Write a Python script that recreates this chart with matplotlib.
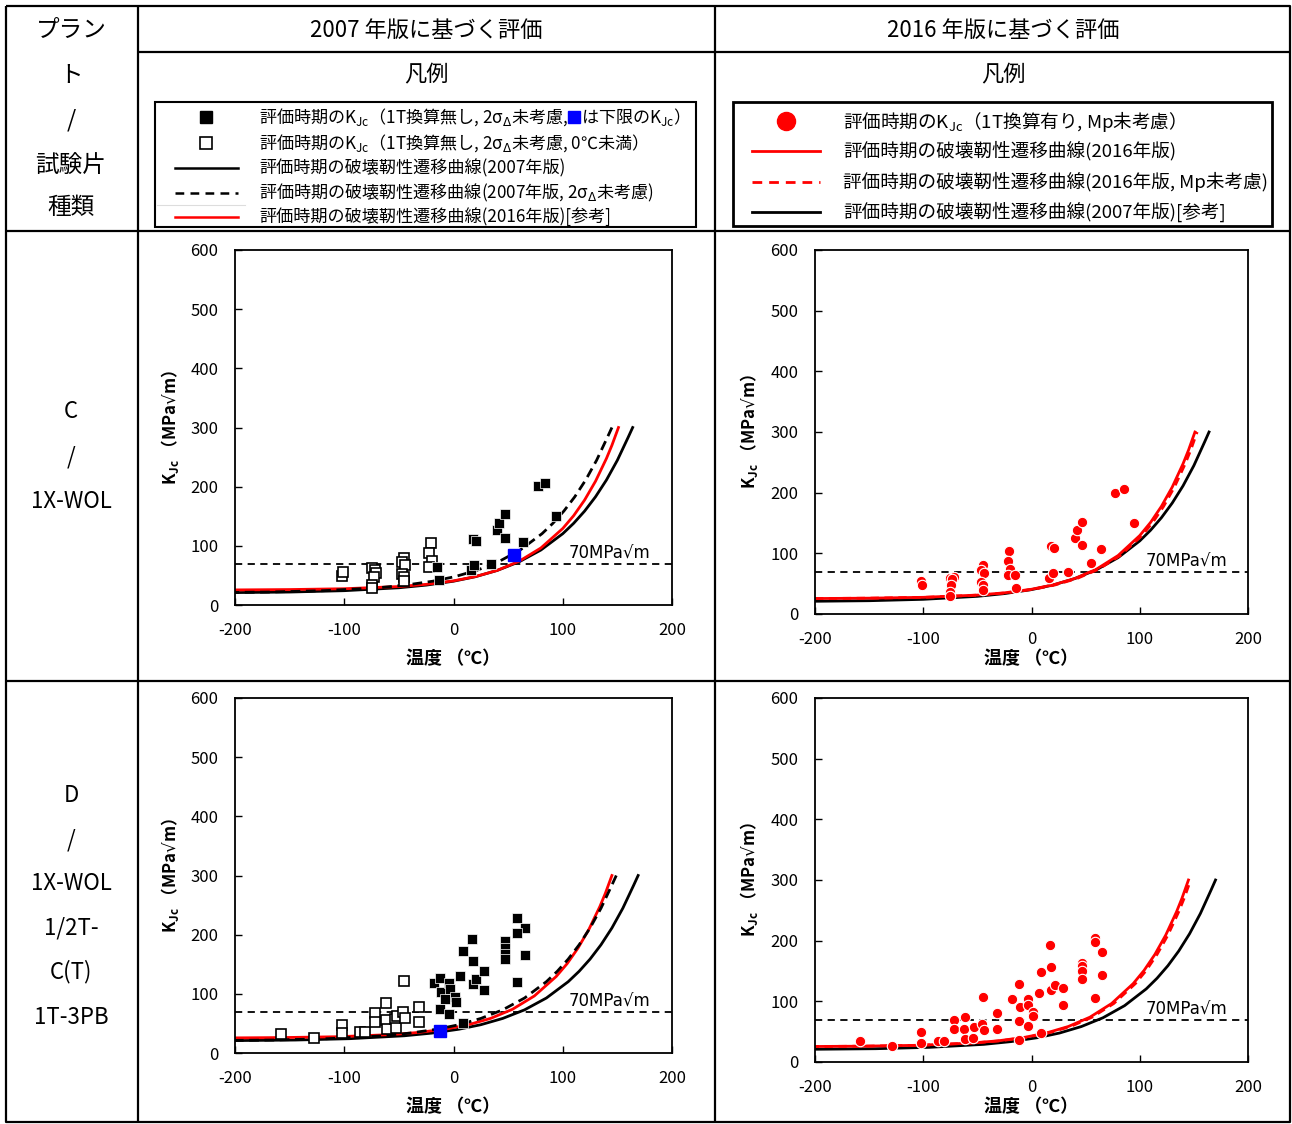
import matplotlib.pyplot as plt
from matplotlib.patches import Rectangle

plt.rcParams['font.family'] = ['Noto Sans CJK JP', 'DejaVu Sans']
plt.rcParams['mathtext.fontset'] = 'dejavusans'
plt.rcParams['axes.unicode_minus'] = False

# ---- data ----
# transition curves (K at 300 is the end point of each curve)
k_2007 = [21.0, 21.9, 24.2, 29.1, 33.6, 40.2, 47.8, 58.4, 72.9, 92.9, 120.5,
          138.1, 158.7, 182.9, 211.3, 244.7, 283.9, 300]
k_2016 = [25.5, 26.1, 27.5, 31.2, 34.9, 40.8, 48.0, 58.5, 73.9, 96.4, 129.3,
          151.0, 177.4, 209.2, 247.7, 269.9, 300]

# plant C
c_t_2007 = [-200, -150, -100, -50, -25, 0, 20, 40, 60, 80, 100, 110, 120, 130, 140, 150, 160, 164]
c_t_2007_nosig = [-219, -169, -119, -69, -44, -19, 1, 21, 41, 61, 81, 91, 101, 111, 121, 131, 141, 145]
c_t_2016 = [-200, -150, -100, -50, -25, 0, 20, 40, 60, 80, 100, 110, 120, 130, 140, 145, 151]
c_t_2016_nomp = [-200, -148, -98, -48, -23, 2, 22, 42, 62, 82, 102, 112, 122, 132, 142, 147, 153]

c_open_t = [-102, -101, -75, -72, -71, -73, -75, -75, -45, -47, -44, -47, -45, -45, -21, -22, -20, -22]
c_open_k = [49, 55, 62, 59, 54, 47, 34, 28, 79, 72, 67, 53, 48, 40, 104, 88, 75, 65]
c_fill_t = [-15, -13, 16, 19, 18, 21, 34, 40, 42, 47, 47, 64, 77, 84, 94]
c_fill_k = [65, 43, 59, 68, 112, 108, 70, 127, 139, 153, 113, 106, 201, 206, 150]
c_blue_t = [55]
c_blue_k = [84]

c_1t_t = [-102, -101, -75, -72, -73, -74, -75, -75, -45, -47, -44, -47, -45, -45, -21, -22, -20,
          -22, -15, -14, 16, 20, 18, 21, 34, 40, 42, 47, 47, 55, 64, 77, 85, 95]
c_1t_k = [55, 48, 60, 61, 57, 48, 36, 29, 81, 73, 67, 53, 48, 40, 104, 88, 74,
          65, 65, 43, 59, 68, 112, 108, 69, 126, 138, 152, 113, 84, 107, 200, 206, 150]

# plant D
d_t_2007 = [-200, -145, -95, -45, -20, 5, 25, 45, 65, 85, 105, 115, 125, 135, 145, 155, 165, 169]
d_t_2007_nosig = [-215, -165, -115, -65, -40, -15, 5, 25, 45, 65, 85, 95, 105, 115, 125, 135, 145, 149]
d_t_2016 = [-206, -156, -106, -56, -31, -6, 14, 34, 54, 74, 94, 104, 114, 124, 134, 139, 145]
d_t_2007b = [-200, -144, -94, -44, -19, 6, 26, 46, 66, 86, 106, 116, 126, 136, 146, 156, 166, 170]
d_t_2016_nomp = [-204, -154, -104, -54, -29, -4, 16, 36, 56, 76, 96, 106, 116, 126, 136, 141, 147]

d_open_t = [-158, -128, -102, -102, -86, -81, -72, -72, -62, -62, -61, -54, -53, -52, -46, -44, -45, -32, -32]
d_open_k = [32, 26, 47, 33, 35, 35, 67, 53, 84, 55, 41, 57, 42, 62, 70, 59, 122, 78, 53]
d_fill_t = [-18, -12, -11, -8, -4, -3, 1, 2, -12, -4, 9, 6, 9, 17, 18, 18, 21, 28, 28,
            47, 47, 47, 47, 58, 65, 58, 65, 58]
d_fill_k = [119, 126, 103, 92, 119, 108, 94, 87, 74, 66, 50, 130, 172, 193, 155, 117, 125, 139, 106,
            190, 177, 167, 159, 229, 212, 202, 166, 120]
d_blue_t = [-12]
d_blue_k = [38]

d_1t_t = [-158, -129, -102, -102, -86, -81, -72, -72, -61, -62, -61, -54, -53, -46, -44, -45, -32, -32,
          -18, -12, -11, -3, -3, 1, 1, -12, -3, -12, 9, 7, 9, 17, 18, 18, 22, 29, 29,
          47, 47, 47, 47, 59, 59, 65, 65, 59]
d_1t_k = [34, 27, 49, 32, 35, 35, 69, 55, 75, 55, 38, 40, 57, 63, 53, 107, 80, 54,
          104, 128, 90, 104, 94, 83, 76, 67, 59, 36, 47, 113, 148, 193, 157, 118, 127, 122, 94,
          164, 158, 150, 137, 204, 197, 182, 143, 105]

W, H = 1292, 1124
fig = plt.figure(figsize=(W / 100, H / 100), dpi=100)
bg = fig.add_axes([0, 0, 1, 1])
bg.set_xlim(0, W)
bg.set_ylim(H, 0)
bg.axis('off')

# ---- table frame ----
lk = dict(color='black', lw=1.6, solid_capstyle='butt')
bg.plot([6, 1290, 1290, 6, 6], [6, 6, 1122, 1122, 6], **lk)
bg.plot([138, 138], [6, 1122], **lk)
bg.plot([715, 715], [6, 1122], **lk)
bg.plot([138, 1290], [52, 52], **lk)
bg.plot([6, 1290], [231, 231], **lk)
bg.plot([6, 1290], [681, 681], **lk)

for txt, y in zip(['プラン', 'ト', '/', '試験片', '種類'], [30, 75, 120, 165, 208]):
    bg.text(71, y, txt, fontsize=17, ha='center', va='center')
for txt, y in zip(['C', '/', '1X-WOL'], [412, 457, 502]):
    bg.text(71, y, txt, fontsize=16, ha='center', va='center')
for txt, y in zip(['D', '/', '1X-WOL', '1/2T-', 'C(T)', '1T-3PB'], [795, 840, 884, 928, 972, 1017]):
    bg.text(71, y, txt, fontsize=16, ha='center', va='center')

bg.text(426, 30, '2007 年版に基づく評価', fontsize=16, ha='center', va='center')
bg.text(1003, 30, '2016 年版に基づく評価', fontsize=16, ha='center', va='center')
bg.text(426, 75, '凡例', fontsize=16, ha='center', va='center')
bg.text(1003, 75, '凡例', fontsize=16, ha='center', va='center')

# ---- left legend ----
bg.add_patch(Rectangle((155, 102), 541, 125, fill=False, ec='black', lw=1.5))
lf = 12.3
rows = [117, 143, 168, 193, 217]
bg.plot([206], [rows[0]], 's', color='black', ms=8)
bg.plot([206], [rows[1]], 's', mfc='white', mec='black', ms=8, mew=1.2)
bg.plot([175, 238], [rows[2], rows[2]], color='black', lw=1.8)
bg.plot([175, 238], [rows[3], rows[3]], color='black', lw=1.8, dashes=(3.5, 2.5))
bg.plot([157, 245], [205, 205], color='#dddddd', lw=0.8)
bg.plot([175, 238], [rows[4], rows[4]], color='red', lw=1.8)

t1 = bg.text(259, rows[0], '評価時期のK$_\\mathregular{Jc}$（1T換算無し, 2σ$_\\Delta$未考慮, ',
             fontsize=lf, va='center')
fig.canvas.draw()
r = fig.canvas.get_renderer()
bb = t1.get_window_extent(r)
x_end = bg.transData.inverted().transform((bb.x1, bb.y0))[0]
bg.plot([x_end + 5], [rows[0]], 's', color='#0000FF', ms=9)
bg.text(x_end + 12, rows[0], 'は下限のK$_\\mathregular{Jc}$）', fontsize=lf, va='center')
bg.text(259, rows[1], '評価時期のK$_\\mathregular{Jc}$（1T換算無し, 2σ$_\\Delta$未考慮, 0℃未満）',
        fontsize=lf, va='center')
bg.text(259, rows[2], '評価時期の破壊靭性遷移曲線(2007年版)', fontsize=lf, va='center')
bg.text(259, rows[3], '評価時期の破壊靭性遷移曲線(2007年版, 2σ$_\\Delta$未考慮)', fontsize=lf, va='center')
bg.text(259, rows[4], '評価時期の破壊靭性遷移曲線(2016年版)[参考]', fontsize=lf, va='center')

# ---- right legend ----
bg.add_patch(Rectangle((733, 102), 539, 124, fill=False, ec='black', lw=2))
rf = 13.4
rows2 = [121, 151, 182, 212]
bg.plot([786], [rows2[0]], 'o', color='#FF0000', ms=13)
bg.plot([752, 820], [rows2[1], rows2[1]], color='#FF0000', lw=2)
bg.plot([752, 820], [rows2[2], rows2[2]], color='#FF0000', lw=2, dashes=(3.5, 2.5))
bg.plot([752, 820], [rows2[3], rows2[3]], color='black', lw=2)
bg.text(843, rows2[0], '評価時期のK$_\\mathregular{Jc}$（1T換算有り, Mp未考慮）', fontsize=rf, va='center')
bg.text(843, rows2[1], '評価時期の破壊靭性遷移曲線(2016年版)', fontsize=rf, va='center')
bg.text(843, rows2[2], '評価時期の破壊靭性遷移曲線(2016年版, Mp未考慮)', fontsize=rf, va='center')
bg.text(843, rows2[3], '評価時期の破壊靭性遷移曲線(2007年版)[参考]', fontsize=rf, va='center')


def px_axes(l, t, rgt, b):
    return fig.add_axes([l / W, 1 - b / H, (rgt - l) / W, (b - t) / H])


def setup(ax, xl_y, yl_x):
    ax.set_xlim(-200, 200)
    ax.set_ylim(0, 600)
    ax.set_xticks(range(-200, 201, 100))
    ax.set_yticks(range(0, 601, 100))
    ax.tick_params(direction='in', length=5, width=1, labelsize=12, pad=12)
    for s in ax.spines.values():
        s.set_linewidth(1.3)
    ax.set_xlabel('温度 （℃）', fontsize=13, fontweight='bold')
    ax.set_ylabel('K$_\\mathregular{Jc}$ （MPa$√$m）', fontsize=12, fontweight='bold')
    ax.xaxis.set_label_coords(0.5, xl_y)
    ax.yaxis.set_label_coords(yl_x, 0.5)
    ax.axhline(70, color='black', lw=1.3, dashes=(4, 3))
    ax.text(105, 87, '70MPa√m', fontsize=12, va='center', family=['DejaVu Sans'])


open_sq = dict(ls='none', marker='s', ms=6.5, mfc='white', mec='black', mew=1.2)
fill_sq = dict(ls='none', marker='s', ms=6.5, mfc='black', mec='white', mew=0.5)
blue_sq = dict(ls='none', marker='s', ms=8.5, color='#0000FF')
red_dot = dict(ls='none', marker='o', ms=7.5, mfc='#FF0000', mec='white', mew=0.8)

# C, 2007
ax1 = px_axes(235, 250, 672, 605)
setup(ax1, -0.124, -0.124)
ax1.plot(c_t_2007, k_2007, color='black', lw=2)
ax1.plot(c_t_2016, k_2016, color='#FF0000', lw=2)
ax1.plot(c_t_2007_nosig, k_2007, color='black', lw=2, dashes=(3.5, 2))
ax1.plot(c_open_t, c_open_k, **open_sq)
ax1.plot(c_fill_t, c_fill_k, **fill_sq)
ax1.plot(c_blue_t, c_blue_k, **blue_sq)

# C, 2016
ax2 = px_axes(815, 250, 1248, 614)
setup(ax2, -0.096, -0.127)
ax2.plot(c_t_2007, k_2007, color='black', lw=2)
ax2.plot(c_t_2016, k_2016, color='#FF0000', lw=2)
ax2.plot(c_t_2016_nomp, k_2016, color='#FF0000', lw=2, dashes=(3, 2))
ax2.plot(c_1t_t, c_1t_k, **red_dot)

# D, 2007
ax3 = px_axes(235, 698, 672, 1053)
setup(ax3, -0.124, -0.124)
ax3.plot(d_t_2007, k_2007, color='black', lw=2)
ax3.plot(d_t_2016, k_2016, color='#FF0000', lw=2)
ax3.plot(d_t_2007_nosig, k_2007, color='black', lw=2, dashes=(3.5, 2))
ax3.plot(d_open_t, d_open_k, **open_sq)
ax3.plot(d_fill_t, d_fill_k, **fill_sq)
ax3.plot(d_blue_t, d_blue_k, **blue_sq)

# D, 2016
ax4 = px_axes(815, 698, 1248, 1062)
setup(ax4, -0.096, -0.127)
ax4.plot(d_t_2007b, k_2007, color='black', lw=2)
ax4.plot(d_t_2016, k_2016, color='#FF0000', lw=2)
ax4.plot(d_t_2016_nomp, k_2016, color='#FF0000', lw=2, dashes=(3, 2))
ax4.plot(d_1t_t, d_1t_k, **red_dot)

fig.savefig('out.png', dpi=100)
